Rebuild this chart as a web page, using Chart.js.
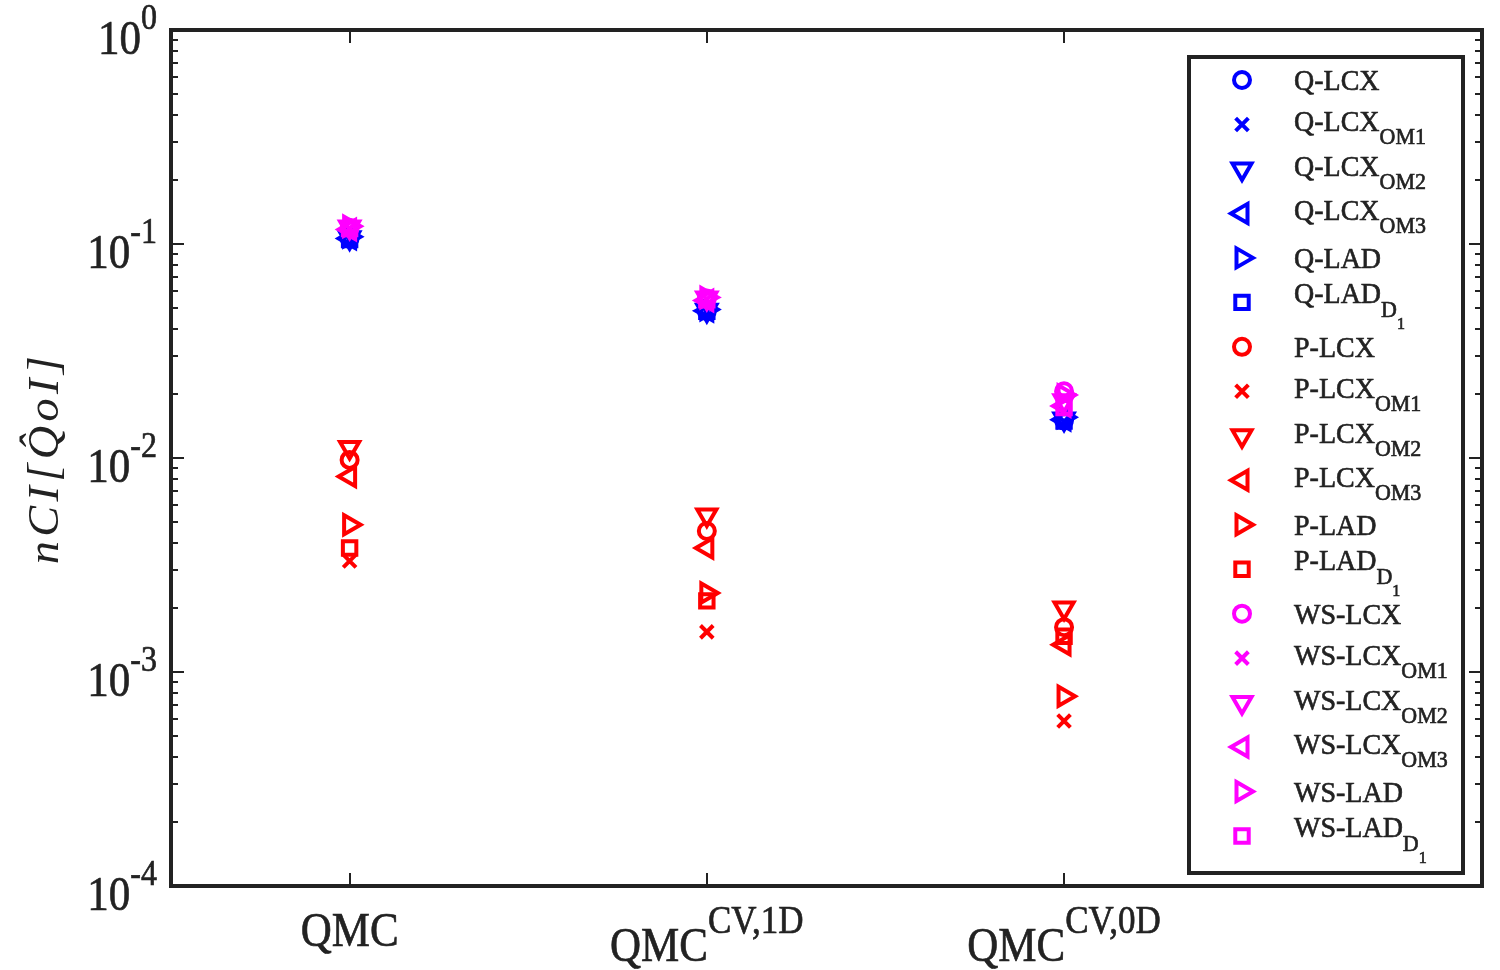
<!DOCTYPE html>
<html lang="en">
<head>
<meta charset="UTF-8">
<title>nCI of QoI</title>
<style>
    body { margin: 0; background: #fff; }
    #wrap { width: 1500px; height: 970px; position: relative; }
</style>
</head>
<body>
<div id="wrap"><canvas id="myChart"></canvas></div>

<script src="https://cdn.jsdelivr.net/npm/chart.js"></script>
<script>
// x positions of the three estimators
var xPos = [1, 2, 3];
var catBase = ['QMC', 'QMC', 'QMC'];
var catSup = ['', 'CV,1D', 'CV,0D'];

// y tick exponents (decades)
var yExp = [0, -1, -2, -3, -4];

// Q- series (blue)
var qLcx    = [0.106, 0.0486, 0.0150];
var qLcxOm1 = [0.105, 0.0484, 0.0148];
var qLcxOm2 = [0.107, 0.0490, 0.0152];
var qLcxOm3 = [0.106, 0.0487, 0.0151];
var qLad    = [0.108, 0.0494, 0.0155];
var qLadD1  = [0.105, 0.0485, 0.0149];

// P- series (red)
var pLcx    = [0.0098, 0.00456, 0.00162];
var pLcxOm1 = [0.00330, 0.00154, 0.00059];
var pLcxOm2 = [0.0112, 0.00542, 0.00199];
var pLcxOm3 = [0.0082, 0.00380, 0.00134];
var pLad    = [0.00488, 0.00234, 0.00077];
var pLadD1  = [0.00380, 0.00215, 0.00147];

// WS- series (magenta)
var wsLcx    = [0.119, 0.0556, 0.0205];
var wsLcxOm1 = [0.118, 0.0552, 0.0190];
var wsLcxOm2 = [0.120, 0.0560, 0.0185];
var wsLcxOm3 = [0.117, 0.0545, 0.0175];
var wsLad    = [0.121, 0.0563, 0.0197];
var wsLadD1  = [0.118, 0.0549, 0.0172];

var groups = [
    { prefix: 'Q-',  color: '#0000ff', series: [qLcx, qLcxOm1, qLcxOm2, qLcxOm3, qLad, qLadD1] },
    { prefix: 'P-',  color: '#ff0000', series: [pLcx, pLcxOm1, pLcxOm2, pLcxOm3, pLad, pLadD1] },
    { prefix: 'WS-', color: '#ff00ff', series: [wsLcx, wsLcxOm1, wsLcxOm2, wsLcxOm3, wsLad, wsLadD1] }
];

// label parts: [main, subscript, sub-subscript]
var suffixes = [['LCX', '', ''], ['LCX', 'OM1', ''], ['LCX', 'OM2', ''], ['LCX', 'OM3', ''], ['LAD', '', ''], ['LAD', 'D', '1']];

var markers = [
    { pointStyle: 'circle',   rotation: 0,   radius: 8 },
    { pointStyle: 'crossRot', rotation: 0,   radius: 9 },
    { pointStyle: 'triangle', rotation: 180, radius: 11 },
    { pointStyle: 'triangle', rotation: 270, radius: 11 },
    { pointStyle: 'triangle', rotation: 90,  radius: 11 },
    { pointStyle: 'rect',     rotation: 0,   radius: 9.5 }
];

var datasets = [];
groups.forEach(function (g) {
    g.series.forEach(function (vals, j) {
        var m = markers[j];
        datasets.push({
            label: g.prefix + suffixes[j][0],
            parts: [g.prefix + suffixes[j][0], suffixes[j][1], suffixes[j][2]],
            data: xPos.map(function (x, i) { return { x: x, y: vals[i] }; }),
            pointStyle: m.pointStyle,
            pointRotation: m.rotation,
            pointRadius: m.radius,
            pointBorderWidth: 4,
            pointBorderColor: g.color,
            pointBackgroundColor: 'rgba(0,0,0,0)',
            showLine: false,
            order: -datasets.length
        });
    });
});

var FONT = '"Liberation Serif", "Times New Roman", serif';
var INK = '#222';

function txt(ctx, s, x, y, size, align, italic, sy) {
    ctx.save();
    ctx.translate(x, y);
    ctx.scale(1, sy || 1.12);
    ctx.font = (italic ? 'italic ' : '') + size + 'px ' + FONT;
    ctx.textAlign = align || 'left';
    ctx.textBaseline = 'alphabetic';
    ctx.fillStyle = INK;
    ctx.strokeStyle = INK;
    ctx.lineWidth = 0.6;
    ctx.fillText(s, 0, 0);
    ctx.strokeText(s, 0, 0);
    ctx.restore();
}

function tw(ctx, s, size, italic) {
    ctx.font = (italic ? 'italic ' : '') + size + 'px ' + FONT;
    return ctx.measureText(s).width;
}

var matlabAxes = {
    id: 'matlabAxes',
    afterDatasetsDraw: function (chart) {
        var ctx = chart.ctx;
        var a = chart.chartArea;
        var xs = chart.scales.x, ys = chart.scales.y;

        ctx.save();
        ctx.strokeStyle = INK;

        // y ticks, major + minor, both sides, pointing in
        ctx.lineWidth = 2;
        ctx.beginPath();
        for (var e = -4; e < 0; e++) {
            for (var k = 1; k <= 9; k++) {
                var py = Math.round(ys.getPixelForValue(k * Math.pow(10, e)));
                var len = k === 1 ? 13 : 7;
                ctx.moveTo(a.left, py); ctx.lineTo(a.left + len, py);
                ctx.moveTo(a.right, py); ctx.lineTo(a.right - len, py);
            }
        }
        // x ticks top and bottom
        xPos.forEach(function (x) {
            var px = Math.round(xs.getPixelForValue(x));
            ctx.moveTo(px, a.bottom); ctx.lineTo(px, a.bottom - 13);
            ctx.moveTo(px, a.top); ctx.lineTo(px, a.top + 13);
        });
        ctx.stroke();

        // box
        ctx.lineWidth = 4;
        ctx.strokeRect(a.left, a.top, a.right - a.left, a.bottom - a.top);

        // y tick labels 10^k
        yExp.forEach(function (p) {
            var py = ys.getPixelForValue(Math.pow(10, p));
            var sup = String(p);
            var sw = tw(ctx, sup, 32);
            var bw = tw(ctx, '10', 43);
            var right = 157;
            txt(ctx, '10', right - sw - bw, py + 24, 43, 'left');
            txt(ctx, sup, right - sw, py - 1, 32, 'left');
        });

        // x tick labels
        xPos.forEach(function (x, i) {
            var px = xs.getPixelForValue(x);
            if (!catSup[i]) {
                txt(ctx, catBase[i], px, a.bottom + 60, 43, 'center');
            } else {
                var bw = tw(ctx, catBase[i], 43);
                var sw = tw(ctx, catSup[i], 35);
                var left = px - (bw + sw) / 2;
                txt(ctx, catBase[i], left, a.bottom + 75, 43, 'left');
                txt(ctx, catSup[i], left + bw, a.bottom + 47, 35, 'left');
            }
        });

        // y axis title
        ctx.save();
        ctx.translate(58, (a.top + a.bottom) / 2);
        ctx.rotate(-Math.PI / 2);
        ctx.scale(1.1, 1.05);
        ctx.font = 'italic 42px ' + FONT;
        ctx.letterSpacing = '4px';
        ctx.textAlign = 'center';
        ctx.fillStyle = INK;
        ctx.fillText('nCI[Q\u0302oI]', 0, 0);
        ctx.restore();

        // legend
        var lx = 1189, ly = 57, lw = 274, lh = 816;
        ctx.fillStyle = '#fff';
        ctx.fillRect(lx, ly, lw, lh);
        ctx.lineWidth = 4;
        ctx.strokeStyle = INK;
        ctx.strokeRect(lx, ly, lw, lh);

        var first = 80, step = (836 - 80) / 17;
        chart.data.datasets.forEach(function (ds, i) {
            var my = first + i * step;
            ctx.save();
            ctx.strokeStyle = ds.pointBorderColor;
            ctx.fillStyle = 'rgba(0,0,0,0)';
            ctx.lineWidth = 4;
            Chart.helpers.drawPoint(ctx, {
                pointStyle: ds.pointStyle, rotation: ds.pointRotation,
                radius: ds.pointRadius, borderWidth: 4
            }, 1242, my);
            ctx.restore();

            var p = ds.parts;
            var tx = 1294;
            if (!p[1]) {
                txt(ctx, p[0], tx, my + 10, 28, 'left', false, 1.08);
            } else if (!p[2]) {
                txt(ctx, p[0], tx, my + 7, 28, 'left', false, 1.08);
                txt(ctx, p[1], tx + tw(ctx, p[0], 28), my + 20, 22, 'left', false, 1.08);
            } else {
                txt(ctx, p[0], tx, my + 1, 28, 'left', false, 1.08);
                var dx = tx + tw(ctx, p[0], 28);
                txt(ctx, p[1], dx, my + 15, 22, 'left', false, 1.08);
                txt(ctx, p[2], dx + tw(ctx, p[1], 22), my + 27, 16, 'left', false, 1.08);
            }
        });

        ctx.restore();
    }
};

var ctx = document.getElementById('myChart').getContext('2d');
var myChart = new Chart(ctx, {
    type: 'scatter',
    data: { datasets: datasets },
    options: {
        responsive: true,
        maintainAspectRatio: false,
        animation: false,
        layout: { padding: { left: 171, top: 30, right: 18, bottom: 84 } },
        plugins: { legend: { display: false }, tooltip: { enabled: false } },
        scales: {
            x: { type: 'linear', min: 0.5, max: 4.17, display: false },
            y: { type: 'logarithmic', min: 1e-4, max: 1, display: false }
        }
    },
    plugins: [matlabAxes]
});
</script>
</body>
</html>
